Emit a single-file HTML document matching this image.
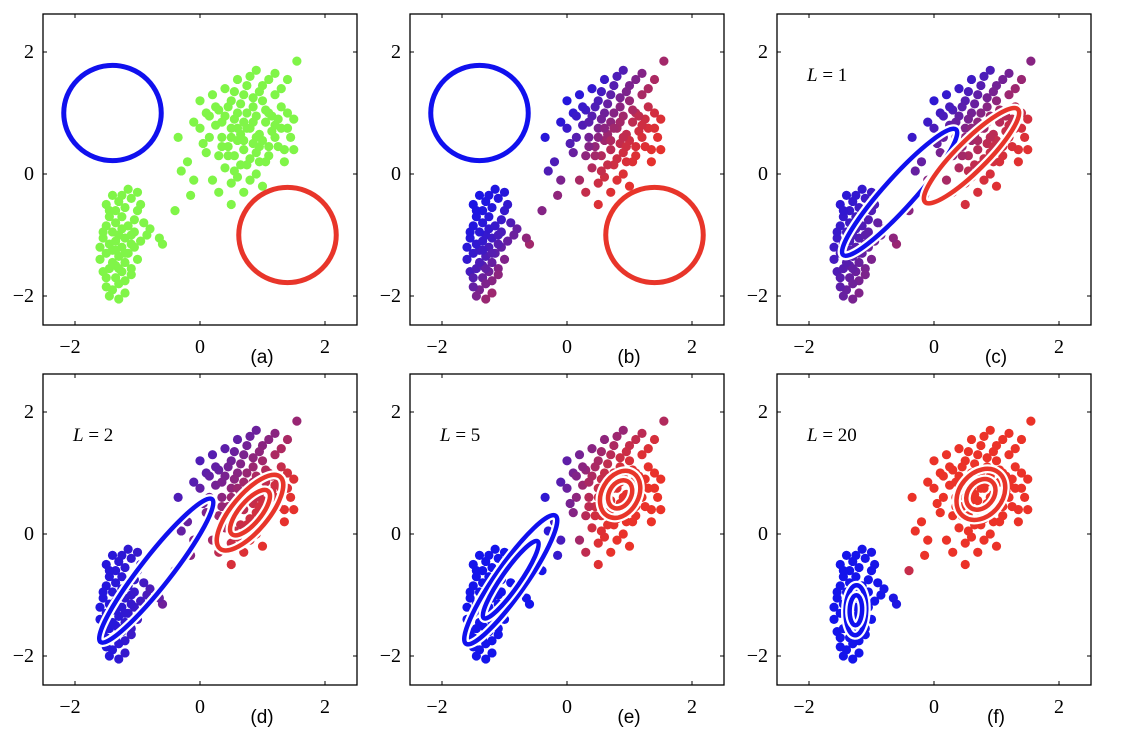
<!DOCTYPE html>
<html><head><meta charset="utf-8"><style>
html,body{margin:0;padding:0;background:#fff;}
svg{display:block;}
.tk{font-family:"Liberation Serif",serif;font-size:20px;fill:#000;}
.lb{font-family:"Liberation Sans",sans-serif;font-size:19px;fill:#000;}
.L{font-family:"Liberation Serif",serif;font-size:19px;fill:#000;}
</style></head><body>
<svg id="fig" width="1145" height="741" viewBox="0 0 1145 741"></svg>
<script>
const xs=[-1.3,-1.4,-1.5,-1.2,-1.35,-1.55,-1.25,-1.45,-1.1,-1.35,-1.6,-1.2,-1.3,-1.5,-1.4,-1.15,-1.25,-1.45,-1.35,-1.55,-1.2,-1.3,-1.1,-1.4,-1.25,-1.5,-1.35,-1.15,-1.45,-1.25,-1.05,-1.35,-1.5,-1.2,-1.0,-1.3,-1.1,-1.4,-1.15,-1.0,-0.95,-1.05,-0.95,-1.0,-1.1,-1.45,-1.2,-1.6,-1.55,-1.3,-1.4,-1.2,-1.1,-1.45,-0.9,-0.85,-1.05,-0.6,-0.65,-0.8,-0.4,-0.1,-0.3,-0.15,-1.3,-1.5,-1.35,-1.25,
0.0,0.1,-0.1,0.2,0.3,0.25,0.4,0.35,0.5,0.5,0.45,0.6,0.6,0.55,0.7,0.7,0.65,0.7,0.75,0.8,0.85,0.8,0.85,0.8,0.9,0.95,0.9,1.0,1.0,1.05,1.0,1.05,1.1,1.15,1.1,1.2,1.25,1.2,1.3,1.3,1.35,1.4,1.45,1.5,1.55,1.4,1.2,0.9,0.6,0.4,0.15,0.05,-0.2,0.3,0.4,0.5,0.6,0.8,0.9,0.7,1.0,0.5,0.3,0.2,0.65,0.55,0.45,0.75,0.95,1.1,0.85,0.7,0.6,0.95,1.15,1.25,0.35,0.25,0.55,0.75,1.3,1.35,1.5,0.1,0.0,0.45,0.75,0.9,1.05,0.65,0.5,0.35,0.85,1.2,0.95,0.55,1.1,-0.35,0.15,1.4];
const ys=[-2.05,-1.9,-1.85,-1.75,-1.7,-1.6,-1.6,-1.55,-1.55,-1.5,-1.4,-1.45,-1.35,-1.3,-1.25,-1.3,-1.2,-1.15,-1.1,-1.05,-1.05,-1.0,-1.0,-0.95,-0.9,-0.85,-0.8,-0.85,-0.7,-0.7,-0.75,-0.6,-0.5,-0.55,-0.6,-0.45,-0.4,-0.35,-0.25,-0.3,-0.5,-1.2,-1.1,-1.4,-1.65,-2.0,-1.95,-1.2,-0.95,-1.55,-1.45,-1.3,-1.15,-0.6,-0.8,-1.0,-0.95,-1.15,-1.05,-0.9,-0.6,-0.1,0.05,-0.35,-1.8,-1.7,-1.25,-0.35,
1.2,1.0,0.85,1.3,1.05,0.8,0.95,0.6,1.2,0.75,0.45,1.0,0.55,0.3,1.3,0.85,0.65,0.4,0.15,1.6,1.1,0.75,0.5,0.25,0.95,0.65,0.35,1.45,1.2,0.85,0.55,0.2,1.0,0.7,0.45,1.3,0.9,0.6,1.1,0.75,0.4,1.0,0.6,0.4,1.85,1.55,1.65,1.7,1.55,1.4,0.6,0.5,0.2,0.3,0.1,-0.15,-0.05,-0.1,0.0,-0.3,-0.2,-0.5,-0.3,-0.1,0.15,0.9,1.1,1.0,1.35,1.55,0.85,0.55,0.75,0.45,0.95,0.45,0.85,1.1,1.35,1.45,1.4,0.2,0.9,0.35,0.75,0.3,0.75,0.6,1.05,1.15,0.6,0.45,1.25,0.8,0.2,0.05,0.3,0.6,0.95,0.75];
// components per panel: [meanX, meanY, a, b, angleDeg]
const blueComp=[[-1.4,1.0,0.78,0.78,0],[-1.4,1.0,0.78,0.78,0],[-0.55,-0.3,1.35,0.25,48],[-0.7,-0.6,1.45,0.25,52],[-0.9,-0.75,1.25,0.25,55],[-1.25,-1.25,0.4,0.17,88]];
const redComp=[[1.4,-1.0,0.78,0.78,0],[1.4,-1.0,0.78,0.78,0],[0.6,0.3,1.05,0.25,45],[0.8,0.35,0.75,0.3,50],[0.85,0.65,0.4,0.3,60],[0.75,0.65,0.45,0.35,50]];
const respScale=[0,1.25,1.6,1.7,1.4,1.6];
const panelLabels=["(a)","(b)","(c)","(d)","(e)","(f)"];
const iterLabels=["","","L = 1","L = 2","L = 5","L = 20"];
const tickVals=[-2,0,2];

const NS="http://www.w3.org/2000/svg";
const svg=document.getElementById('fig');
const SX=62.5, SY=61;
function mk(t,a,p){const e=document.createElementNS(NS,t);for(const k in a)e.setAttribute(k,a[k]);(p||svg).appendChild(e);return e;}
function dens(c,x,y,s){const t=c[4]*Math.PI/180,dx=x-c[0],dy=y-c[1];const u=dx*Math.cos(t)+dy*Math.sin(t),v=-dx*Math.sin(t)+dy*Math.cos(t);const a=c[2]*s,b=c[3]*s;return Math.exp(-0.5*(u*u/(a*a)+v*v/(b*b)))/(a*b);}
for(let p=0;p<6;p++){
  const col=p%3,row=Math.floor(p/3);
  const X0=200+367*col, Y0=174+360*row;
  const px=x=>X0+x*SX, py=y=>Y0-y*SY;
  const g=mk('g',{});
  
  
  const L=X0-157,R=X0+157,T=Y0-160,B=Y0+151;
  const box=mk('rect',{x:L,y:T,width:R-L,height:B-T,fill:'#fff',stroke:'#000','stroke-width':1.3},g);
  
  
  tickVals.forEach(v=>{
    mk('line',{x1:px(v),x2:px(v),y1:B,y2:B-4,stroke:'#000'},g);
    mk('line',{x1:px(v),x2:px(v),y1:T,y2:T+4,stroke:'#000'},g);
    mk('line',{x1:L,x2:L+4,y1:py(v),y2:py(v),stroke:'#000'},g);
    mk('line',{x1:R,x2:R-4,y1:py(v),y2:py(v),stroke:'#000'},g);
    const s=v<0?'\u2212'+(-v):String(v);
    const tx=mk('text',{x:px(v)-(v<0?5:0),y:B+28,'text-anchor':'middle',class:'tk'},g);tx.textContent=s;
    
    
    const ty=mk('text',{x:L-9,y:py(v)+6,'text-anchor':'end',class:'tk'},g);ty.textContent=s;
    
    
  });
  const lab=mk('text',{x:X0+62,y:B+38,'text-anchor':'middle',class:'lb'},g);lab.textContent=panelLabels[p];
  
  
  if(iterLabels[p]){const t=mk('text',{x:X0-127,y:Y0-93,class:'L'},g);
    const parts=iterLabels[p].split(' = ');
    const i1=mk('tspan',{'font-style':'italic'},t);i1.textContent=parts[0];
    const i2=mk('tspan',{},t);i2.textContent=' = '+parts[1];
    
    }
  const pts=mk('g',{},g);
  
  
  for(let i=0;i<xs.length;i++){
    let fill;
    if(p===0) fill='rgb(128,245,72)';
    else{const s=respScale[p];const db=dens(blueComp[p],xs[i],ys[i],s),dr=dens(redComp[p],xs[i],ys[i],s);
      const r=dr/(db+dr+1e-300);
      fill=`rgb(${Math.round(20+215*r)},${Math.round(20+30*r)},${Math.round(235-195*r)})`;}
    const c=mk('circle',{cx:px(xs[i]),cy:py(ys[i]),r:4.6,fill},pts);
    
    
  }
  [[blueComp[p],'#1010ee'],[redComp[p],'#e8352a']].forEach(([c,color],k)=>{
    let rings=[1];
    if(p===3&&k===1) rings=[1,0.6];
    if(p>=4) rings=[1,0.6];
    rings.forEach(f=>{
      const attrs={cx:px(c[0]),cy:py(c[1]),rx:c[2]*SX*f,ry:c[3]*SY*f,fill:'none',transform:`rotate(${-c[4]} ${px(c[0])} ${py(c[1])})`};
      if(p>=2){const w=mk('ellipse',Object.assign({},attrs,{stroke:'#fff','stroke-width':9}),g);
        
        }
      const e=mk('ellipse',Object.assign({},attrs,{stroke:color,'stroke-width':p<2?5:4.5}),g);
      
      
    });
  });
}
</script>
</body></html>
